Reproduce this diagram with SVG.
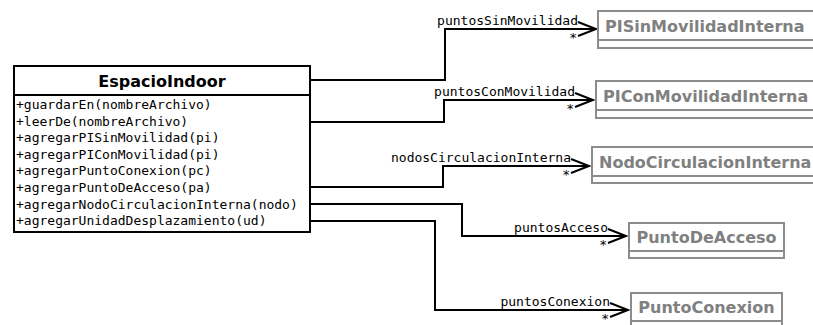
<svg xmlns="http://www.w3.org/2000/svg" width="813" height="325" viewBox="0 0 813 325">
  <style>
    .cls { fill: #fff; stroke: #000; stroke-width: 2; }
    .ext { fill: #fff; stroke: #8c8c8c; stroke-width: 2; }
    .title { font-family: "DejaVu Sans", "Liberation Sans", sans-serif; font-weight: bold; font-size: 16px; }
    .ext-title { fill: #808080; }
    .op { font-family: "DejaVu Sans Mono", "Liberation Mono", monospace; font-size: 13px; fill: #000; }
    .role { font-family: "DejaVu Sans Mono", "Liberation Mono", monospace; font-size: 13px; fill: #000; text-anchor: end; }
    .edge { fill: none; stroke: #000; stroke-width: 2; marker-end: url(#open); }
  </style>
  <defs>
    <marker id="open" markerUnits="userSpaceOnUse" markerWidth="24" markerHeight="20" refX="20" refY="8" orient="auto" overflow="visible">
      <path d="M2,1 L20,8 L2,15" fill="none" stroke="#000" stroke-width="2"/>
    </marker>
  </defs>
  <rect width="813" height="325" fill="#fff"/>

  <!-- associations -->
  <g id="connectors">
    <polyline class="edge" points="310,80 445,80 445,29 596,29"/>
    <polyline class="edge" points="310,122 444,122 444,100 593,100"/>
    <polyline class="edge" points="310,187 443,187 443,166 589,166"/>
    <polyline class="edge" points="310,204 462,204 462,236 626,236"/>
    <polyline class="edge" points="310,221 435,221 435,310 628,310"/>
    <text class="role" x="578" y="25">puntosSinMovilidad</text>
    <text class="role" x="577" y="42">*</text>
    <text class="role" x="575" y="96">puntosConMovilidad</text>
    <text class="role" x="574" y="113">*</text>
    <text class="role" x="571" y="162">nodosCirculacionInterna</text>
    <text class="role" x="570" y="179">*</text>
    <text class="role" x="608" y="232">puntosAcceso</text>
    <text class="role" x="607" y="249">*</text>
    <text class="role" x="610" y="306">puntosConexion</text>
    <text class="role" x="609" y="323">*</text>
  </g>

  <!-- main class -->
  <g id="EspacioIndoor">
    <rect class="cls" x="14" y="66" width="296" height="166"/>
    <line x1="14" y1="95" x2="310" y2="95" stroke="#000" stroke-width="2"/>
    <text class="title" x="162" y="87" text-anchor="middle">EspacioIndoor</text>
    <text class="op" x="16" y="109">+guardarEn(nombreArchivo)</text>
    <text class="op" x="16" y="125.6">+leerDe(nombreArchivo)</text>
    <text class="op" x="16" y="142.2">+agregarPISinMovilidad(pi)</text>
    <text class="op" x="16" y="158.8">+agregarPIConMovilidad(pi)</text>
    <text class="op" x="16" y="175.4">+agregarPuntoConexion(pc)</text>
    <text class="op" x="16" y="192">+agregarPuntoDeAcceso(pa)</text>
    <text class="op" x="16" y="208.6">+agregarNodoCirculacionInterna(nodo)</text>
    <text class="op" x="16" y="225.2">+agregarUnidadDesplazamiento(ud)</text>
  </g>

  <!-- referenced classes -->
  <g id="PISinMovilidadInterna">
    <rect class="ext" x="598" y="11" width="240" height="37"/>
    <line x1="598" y1="40" x2="838" y2="40" stroke="#8c8c8c" stroke-width="2"/>
    <text class="title ext-title" x="605" y="32">PISinMovilidadInterna</text>
  </g>
  <g id="PIConMovilidadInterna">
    <rect class="ext" x="596" y="81" width="240" height="37"/>
    <line x1="596" y1="110" x2="836" y2="110" stroke="#8c8c8c" stroke-width="2"/>
    <text class="title ext-title" x="603" y="102">PIConMovilidadInterna</text>
  </g>
  <g id="NodoCirculacionInterna">
    <rect class="ext" x="592" y="147" width="240" height="36"/>
    <line x1="592" y1="176" x2="832" y2="176" stroke="#8c8c8c" stroke-width="2"/>
    <text class="title ext-title" x="599" y="168">NodoCirculacionInterna</text>
  </g>
  <g id="PuntoDeAcceso">
    <rect class="ext" x="629" y="223" width="155" height="35"/>
    <line x1="629" y1="251" x2="784" y2="251" stroke="#8c8c8c" stroke-width="2"/>
    <text class="title ext-title" x="706.5" y="243" text-anchor="middle">PuntoDeAcceso</text>
  </g>
  <g id="PuntoConexion">
    <rect class="ext" x="631" y="293" width="151" height="37"/>
    <line x1="631" y1="321" x2="782" y2="321" stroke="#8c8c8c" stroke-width="2"/>
    <text class="title ext-title" x="706.5" y="313" text-anchor="middle">PuntoConexion</text>
  </g>
</svg>
